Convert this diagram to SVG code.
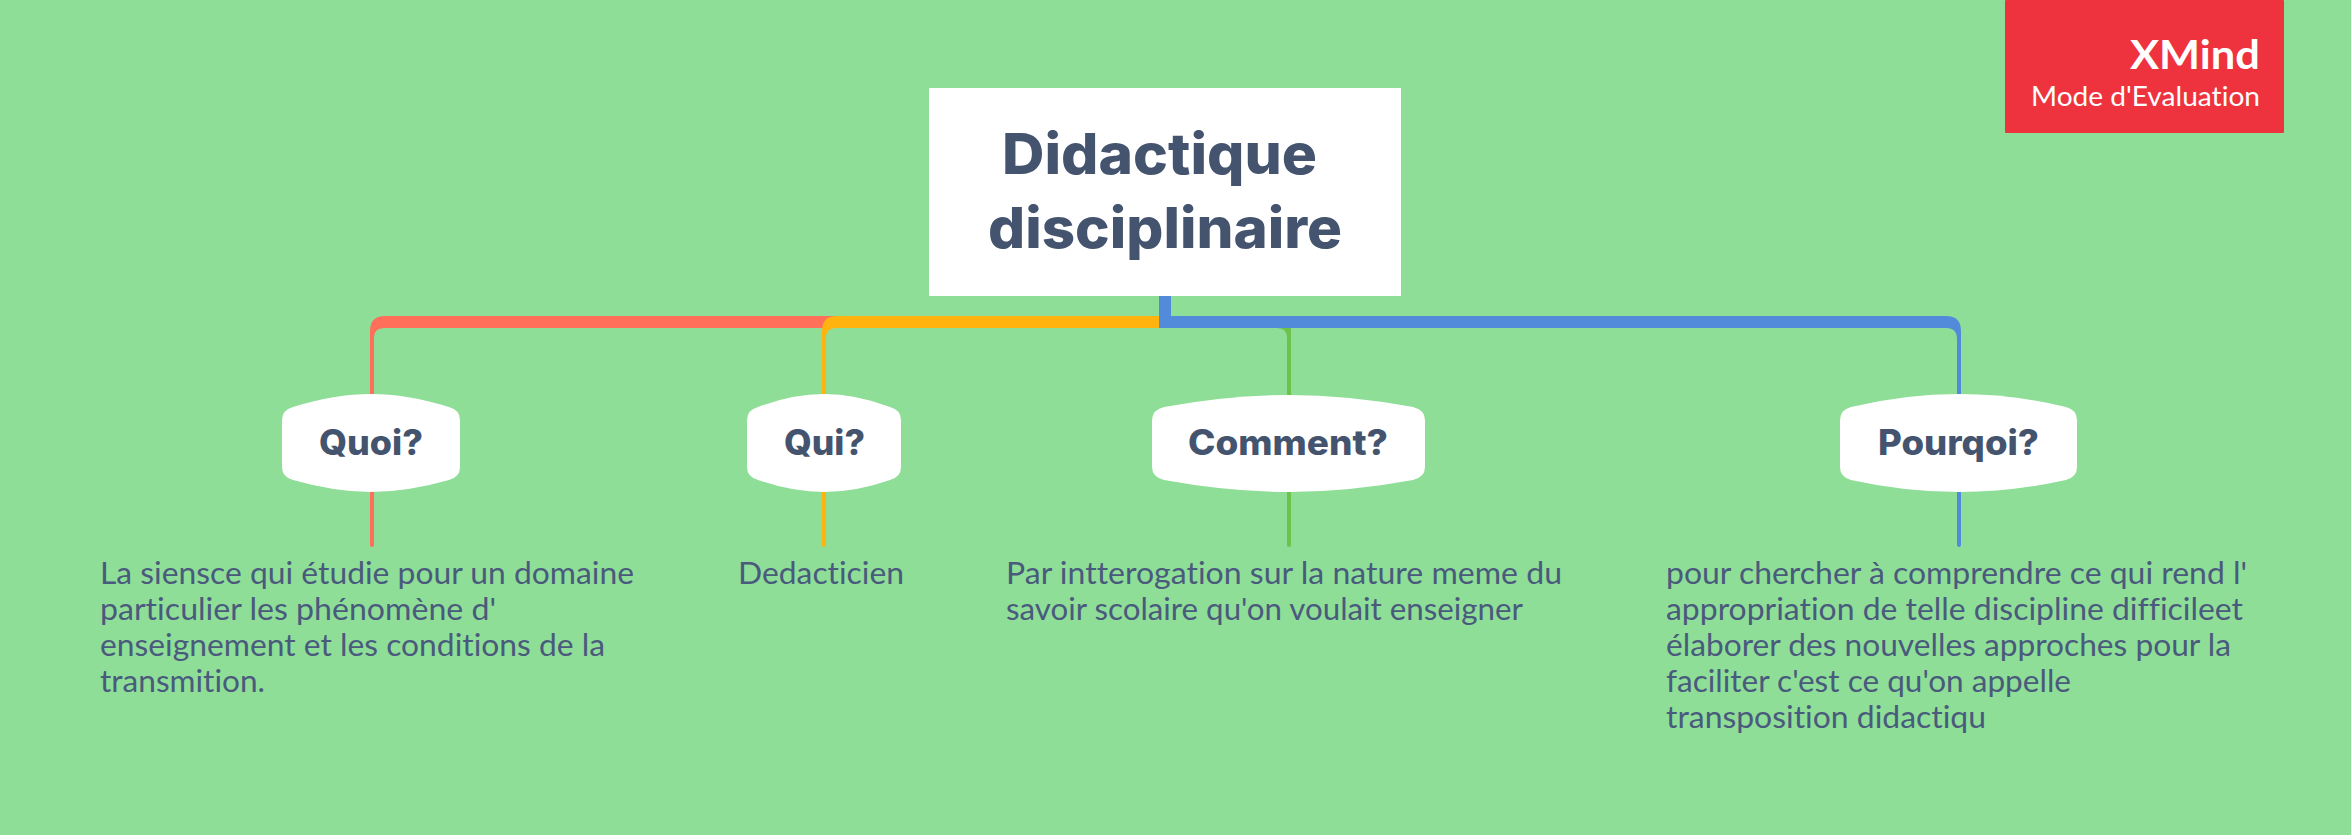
<svg xmlns="http://www.w3.org/2000/svg" width="2351" height="835" viewBox="0 0 2351 835">
<style>
text{font-variant-ligatures:none}
.title{font-family:"Inter","Liberation Sans",sans-serif;font-weight:800;font-size:56px;fill:#44546F}
.topic{font-family:"Inter","Liberation Sans",sans-serif;font-weight:800;font-size:35px;fill:#44546F}
.body{font-family:"Lato","Liberation Sans",sans-serif;font-size:30px;fill:#4A5A7C}
.shape{fill:#fff}
.wm1{font-family:"Lato",sans-serif;font-weight:700;font-size:41px;fill:#fff}
.wm2{font-family:"Lato",sans-serif;font-size:27px;fill:#fff}
.red{fill:#FF6F59}.ora{fill:#FFB30F}.gre{fill:#6CC24A}.blu{fill:#528BD9}
</style>
<rect width="2351" height="835" fill="#8EDE98"/>
<g id="connectors">
<path class="red" d="M370 545V331Q370 316 385 316H1165V328H384Q374 328 374 338V545A2 2 0 0 1 370 545Z"/>
<path class="gre" d="M1272 328H1291V545A2 2 0 0 1 1287 545V338Q1287 328 1277 328Z"/>
<path class="ora" d="M822 545V331Q822 316 837 316H1165V328H836Q826 328 826 338V545A2 2 0 0 1 822 545Z"/>
<path class="blu" d="M1159 296H1171V316H1946Q1961 316 1961 331V545A2 2 0 0 1 1957 545V339Q1957 328 1946 328H1159Z"/>
</g>
<g id="central"><rect x="929" y="88" width="472" height="208" class="shape"/>
<text class="title" x="1002" y="174" textLength="315" lengthAdjust="spacingAndGlyphs">Didactique</text><text class="title" x="988" y="248" textLength="354" lengthAdjust="spacingAndGlyphs">disciplinaire</text></g>
<g id="quoi"><path class="shape" d="M282 420Q282 410 293 407Q335 394 371 394Q407 394 449 407Q460 410 460 420V467Q460 477 449 480Q407 492 371 492Q335 492 293 480Q282 477 282 467Z"/>
<text class="topic" x="319" y="455" textLength="104" lengthAdjust="spacingAndGlyphs">Quoi?</text></g>
<g id="qui"><path class="shape" d="M747 420Q747 410 758 407Q792 394 824 394Q856 394 890 407Q901 410 901 420V467Q901 477 890 480Q856 492 824 492Q792 492 758 480Q747 477 747 467Z"/>
<text class="topic" x="784" y="455" textLength="81" lengthAdjust="spacingAndGlyphs">Qui?</text></g>
<g id="comment"><path class="shape" d="M1152 420Q1152 410 1164 407Q1230 395 1289 395Q1348 395 1413 407Q1425 410 1425 420V467Q1425 477 1413 480Q1348 492 1289 492Q1230 492 1164 480Q1152 477 1152 467Z"/>
<text class="topic" x="1188" y="455" textLength="200" lengthAdjust="spacingAndGlyphs">Comment?</text></g>
<g id="pourquoi"><path class="shape" d="M1840 420Q1840 410 1851 407Q1905 394 1959 394Q2012 394 2066 407Q2077 410 2077 420V467Q2077 477 2066 480Q2012 492 1959 492Q1905 492 1851 480Q1840 477 1840 467Z"/>
<text class="topic" x="1878" y="455" textLength="161" lengthAdjust="spacingAndGlyphs">Pourqoi?</text></g>
<g id="note1"><text class="body" x="100" y="584" textLength="534" lengthAdjust="spacingAndGlyphs">La siensce qui étudie pour un domaine</text><text class="body" x="100" y="620" textLength="396" lengthAdjust="spacingAndGlyphs">particulier les phénomène d'</text><text class="body" x="100" y="656" textLength="505" lengthAdjust="spacingAndGlyphs">enseignement et les conditions de la</text><text class="body" x="100" y="692" textLength="165" lengthAdjust="spacingAndGlyphs">transmition.</text></g>
<g id="note2"><text class="body" x="738" y="584" textLength="166" lengthAdjust="spacingAndGlyphs">Dedacticien</text></g>
<g id="note3"><text class="body" x="1006" y="584" textLength="556" lengthAdjust="spacingAndGlyphs">Par intterogation sur la nature meme du</text><text class="body" x="1006" y="620" textLength="517" lengthAdjust="spacingAndGlyphs">savoir scolaire qu'on voulait enseigner</text></g>
<g id="note4"><text class="body" x="1666" y="584" textLength="581" lengthAdjust="spacingAndGlyphs">pour chercher à comprendre ce qui rend l'</text><text class="body" x="1666" y="620" textLength="577" lengthAdjust="spacingAndGlyphs">appropriation de telle discipline difficileet</text><text class="body" x="1666" y="656" textLength="565" lengthAdjust="spacingAndGlyphs">élaborer des nouvelles approches pour la</text><text class="body" x="1666" y="692" textLength="405" lengthAdjust="spacingAndGlyphs">faciliter c'est ce qu'on appelle</text><text class="body" x="1666" y="728" textLength="320" lengthAdjust="spacingAndGlyphs">transposition didactiqu</text></g>
<g id="watermark"><rect x="2005" y="0" width="279" height="133" rx="1" fill="#EE333F"/>
<text class="wm1" x="2130" y="69" textLength="130" lengthAdjust="spacingAndGlyphs">XMind</text><text class="wm2" x="2031" y="106" textLength="229" lengthAdjust="spacingAndGlyphs">Mode d'Evaluation</text></g>
</svg>
